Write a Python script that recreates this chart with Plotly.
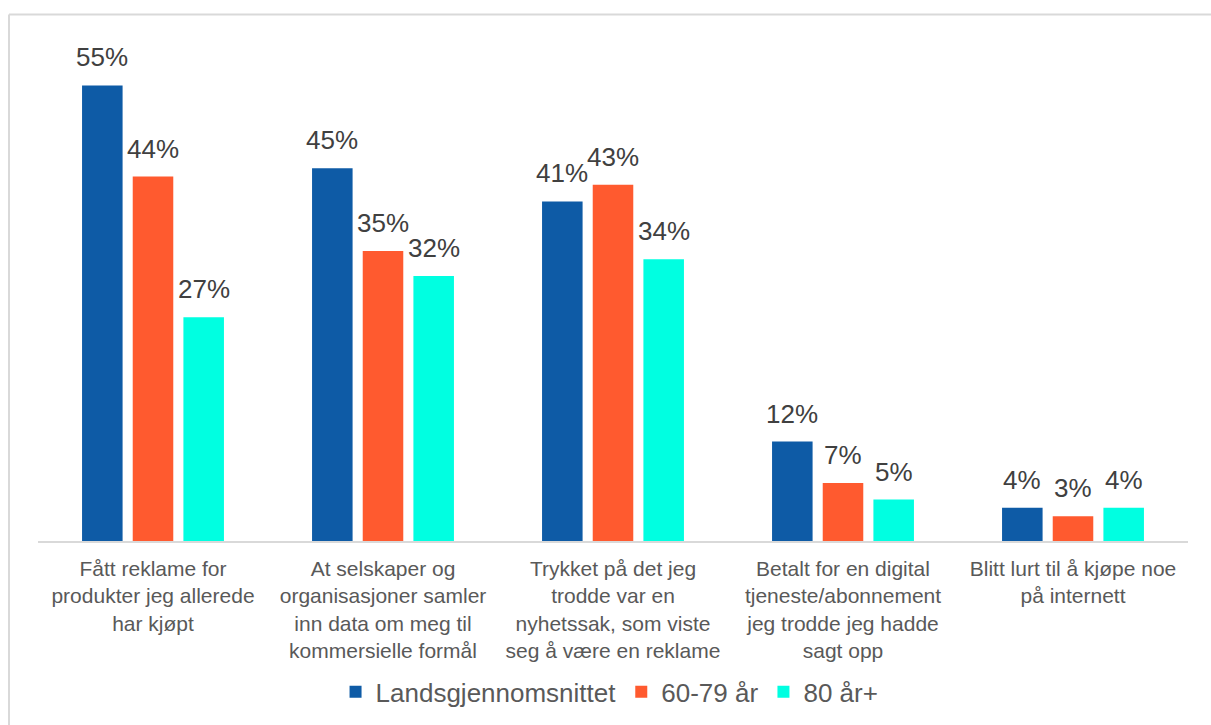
import plotly.graph_objects as go

categories = [
    "Fått reklame for<br>produkter jeg allerede<br>har kjøpt",
    "At selskaper og<br>organisasjoner samler<br>inn data om meg til<br>kommersielle formål",
    "Trykket på det jeg<br>trodde var en<br>nyhetssak, som viste<br>seg å være en reklame",
    "Betalt for en digital<br>tjeneste/abonnement<br>jeg trodde jeg hadde<br>sagt opp",
    "Blitt lurt til å kjøpe noe<br>på internett",
]
series_names = ["Landsgjennomsnittet", "60-79 år", "80 år+"]
landsgjennomsnittet = [55, 45, 41, 12, 4]
alder_60_79 = [44, 35, 43, 7, 3]
alder_80_pluss = [27, 32, 34, 5, 4]
series_values = [landsgjennomsnittet, alder_60_79, alder_80_pluss]
colors = ["#0E5BA6", "#FF5A2F", "#00FFE1"]

W, H = 1211, 725
ML, MR, MT, MB = 38, 23, 43.5, 184
YMAX = 60
BARGAP = 0.339
n_series = len(series_values)

x_idx = list(range(len(categories)))

fig = go.Figure()
for name, vals, col in zip(series_names, series_values, colors):
    fig.add_trace(go.Bar(
        x=x_idx, y=vals, name=name,
        marker=dict(color=col, line=dict(width=0)),
    ))

# data labels as annotations above each bar
slot = (1 - BARGAP) / n_series
for si, vals in enumerate(series_values):
    off = (si - (n_series - 1) / 2) * slot
    for ci, v in enumerate(vals):
        fig.add_annotation(
            x=ci + off, y=v, xref="x", yref="y",
            text=f"{v}%", showarrow=False,
            yanchor="bottom", yshift=11,
            font=dict(family="Liberation Sans, Arial", size=26, color="#404040"),
        )

plot_w = W - ML - MR
plot_h = H - MT - MB
# outer light border (open to the right and bottom)
bx0 = (9 - ML) / plot_w
by1 = (H - MB - 14) / plot_h
fig.add_shape(type="line", xref="paper", yref="paper", x0=bx0, x1=1.2, y0=by1, y1=by1,
              line=dict(color="#D9D9D9", width=2))
fig.add_shape(type="line", xref="paper", yref="paper", x0=bx0, x1=bx0, y0=by1, y1=-0.5,
              line=dict(color="#D9D9D9", width=2))

fig.update_layout(
    width=W, height=H,
    margin=dict(l=ML, r=MR, t=MT, b=MB, autoexpand=False),
    paper_bgcolor="white", plot_bgcolor="white",
    barmode="group", bargap=BARGAP, bargroupgap=0.2,
    showlegend=True,
    legend=dict(
        orientation="h", x=0.497, xanchor="center",
        y=(-(692 - (H - MB)) / plot_h), yanchor="middle",
        font=dict(family="Liberation Sans, Arial", size=26, color="#595959"),
        itemwidth=30, traceorder="normal",
    ),
    xaxis=dict(
        tickmode="array", tickvals=x_idx, ticktext=categories,
        range=[-0.5, len(categories) - 0.5],
        showline=True, linecolor="#D9D9D9", linewidth=1.5,
        showgrid=False, zeroline=False, ticks="",
        ticklabelstandoff=8,
        tickfont=dict(family="Liberation Sans, Arial", size=21, color="#595959"),
    ),
    yaxis=dict(range=[0, YMAX], visible=False, showgrid=False, zeroline=False),
)

fig.write_html("out.html")
